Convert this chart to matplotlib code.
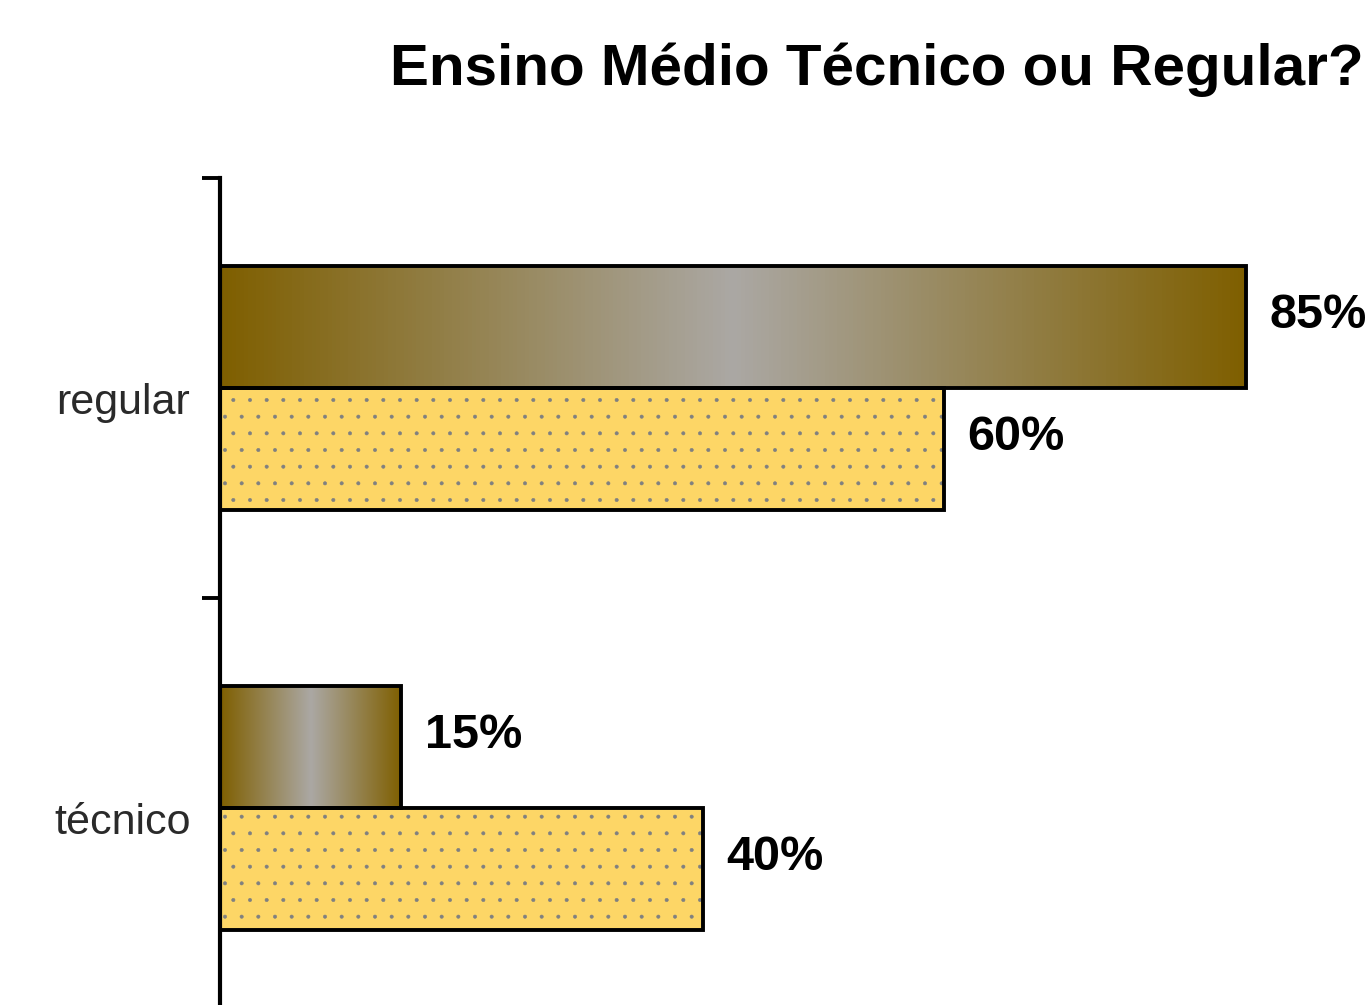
import numpy as np
import matplotlib
matplotlib.use("Agg")
import matplotlib.pyplot as plt
from matplotlib.colors import LinearSegmentedColormap

plt.rcParams['font.family'] = ['Liberation Sans', 'DejaVu Sans']
plt.rcParams['hatch.linewidth'] = 0.4

# data
categories = ['técnico', 'regular']
serie_gradiente = [15, 85]
serie_pontilhada = [40, 60]
titulo = 'Ensino Médio Técnico ou Regular?'

fig = plt.figure(figsize=(13.7, 10.05), dpi=100)
ax = fig.add_axes([220/1370, -13/1005, 1150/1370, 840/1005])

ys = np.arange(len(categories))
h = 0.29

# brown/grey gradient bars
cmap = LinearSegmentedColormap.from_list('ouro', ['#7F5F00', '#ABA8A4', '#7F5F00'])
grad = np.linspace(0, 1, 256).reshape(1, -1)
bars1 = ax.barh(ys + h/2, serie_gradiente, height=h, facecolor='none',
                edgecolor='black', linewidth=2.8, zorder=3)
for b in bars1:
    x0, y0 = b.get_x(), b.get_y()
    ax.imshow(grad, cmap=cmap, aspect='auto', zorder=2,
              extent=[x0, x0 + b.get_width(), y0, y0 + b.get_height()])

# dotted yellow bars: fill + grey dots, then black outline on top
ax.barh(ys - h/2, serie_pontilhada, height=h, facecolor='#FDD666',
        edgecolor='#808080', linewidth=0, hatch='.', zorder=2)
bars2 = ax.barh(ys - h/2, serie_pontilhada, height=h, facecolor='none',
                edgecolor='black', linewidth=2.8, zorder=3)

for b in list(bars1) + list(bars2):
    w = b.get_width()
    ax.annotate(f'{w:.0f}%', (w, b.get_y() + b.get_height()/2),
                xytext=(17, 8), textcoords='offset points',
                ha='left', va='center', fontsize=35, fontweight='bold')

ax.set_xlim(0, 95.3)
ax.set_ylim(-0.5, len(categories) - 0.5)

# category labels
for y, c in zip(ys, categories):
    ax.text(-97/1150, y - 0.035, c, transform=ax.get_yaxis_transform(),
            ha='center', va='center', fontsize=31, color='#2a2a2a')

ax.set_yticks(np.arange(len(categories) + 1) - 0.5)
ax.set_yticklabels([])
ax.tick_params(axis='y', length=13, width=2.8, direction='out')
ax.set_xticks([])
for s in ['top', 'right', 'bottom']:
    ax.spines[s].set_visible(False)
ax.spines['left'].set_linewidth(3)

fig.text(877/1370, 1 - 70/1005, titulo, ha='center', va='center',
         fontsize=42, fontweight='bold')

fig.savefig('out.png', dpi=100)
